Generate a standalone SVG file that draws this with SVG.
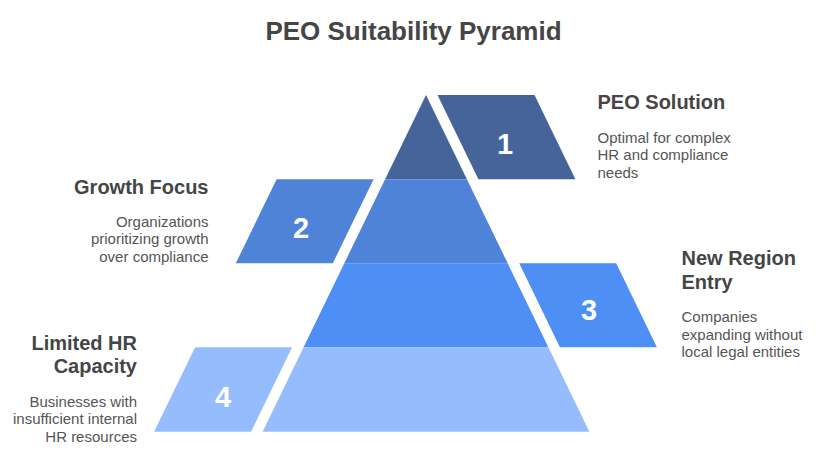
<svg xmlns="http://www.w3.org/2000/svg" width="818" height="466" viewBox="0 0 818 466">
<style>
.title{font-family:"Liberation Sans",Arial,sans-serif;font-weight:bold;font-size:26px;fill:#454545}
.head{font-family:"Liberation Sans",Arial,sans-serif;font-weight:bold;font-size:20px;fill:#454545}
.desc{font-family:"Liberation Sans",Arial,sans-serif;font-size:15px;fill:#555555}
.num{font-family:"Liberation Sans",Arial,sans-serif;font-weight:bold;font-size:29px;fill:#ffffff;text-anchor:middle}
.c1{fill:#45659a}
.c2{fill:#4f83d8}
.c3{fill:#4e8ff6}
.c4{fill:#95bcfc}
</style>
<rect width="818" height="466" fill="#ffffff"/>
<text class="title" x="413.5" y="40" text-anchor="middle">PEO Suitability Pyramid</text>
<g id="tier1">
<polygon class="c1" points="426,95 466.9,179.3 385.1,179.3"/>
<polygon class="c1" points="437.5,95 534.5,95 575.4,179.3 478.4,179.3"/>
<text class="num" x="505" y="154">1</text>
<text class="head" x="597.5" y="109">PEO Solution</text>
<text class="desc" x="597.5" y="142.5">Optimal for complex</text>
<text class="desc" x="597.5" y="160">HR and compliance</text>
<text class="desc" x="597.5" y="177.5">needs</text>
</g>
<g id="tier2">
<polygon class="c2" points="385.1,179.3 466.9,179.3 507.7,263.3 344.3,263.3"/>
<polygon class="c2" points="276.6,179.3 373.6,179.3 332.8,263.3 235.8,263.3"/>
<text class="num" x="301" y="238">2</text>
<text class="head" x="208.5" y="194" text-anchor="end">Growth Focus</text>
<text class="desc" x="208.5" y="226.5" text-anchor="end">Organizations</text>
<text class="desc" x="208.5" y="244" text-anchor="end">prioritizing growth</text>
<text class="desc" x="208.5" y="261.5" text-anchor="end">over compliance</text>
</g>
<g id="tier3">
<polygon class="c3" points="344.3,263.3 507.7,263.3 548.4,347.3 303.6,347.3"/>
<polygon class="c3" points="519.2,263.3 616.2,263.3 656.9,347.3 559.9,347.3"/>
<text class="num" x="589" y="320">3</text>
<text class="head" x="681.5" y="265">New Region</text>
<text class="head" x="681.5" y="288.5">Entry</text>
<text class="desc" x="681.5" y="322">Companies</text>
<text class="desc" x="681.5" y="339.5">expanding without</text>
<text class="desc" x="681.5" y="357">local legal entities</text>
</g>
<g id="tier4">
<polygon class="c4" points="303.6,347.3 548.4,347.3 589.4,431.7 262.6,431.7"/>
<polygon class="c4" points="195.1,347.3 292.1,347.3 251.1,431.7 154.1,431.7"/>
<text class="num" x="223" y="407">4</text>
<text class="head" x="137" y="349.5" text-anchor="end">Limited HR</text>
<text class="head" x="137" y="373" text-anchor="end">Capacity</text>
<text class="desc" x="137" y="406.5" text-anchor="end">Businesses with</text>
<text class="desc" x="137" y="424" text-anchor="end">insufficient internal</text>
<text class="desc" x="137" y="441.5" text-anchor="end">HR resources</text>
</g>
<g id="connectors"/>
</svg>
